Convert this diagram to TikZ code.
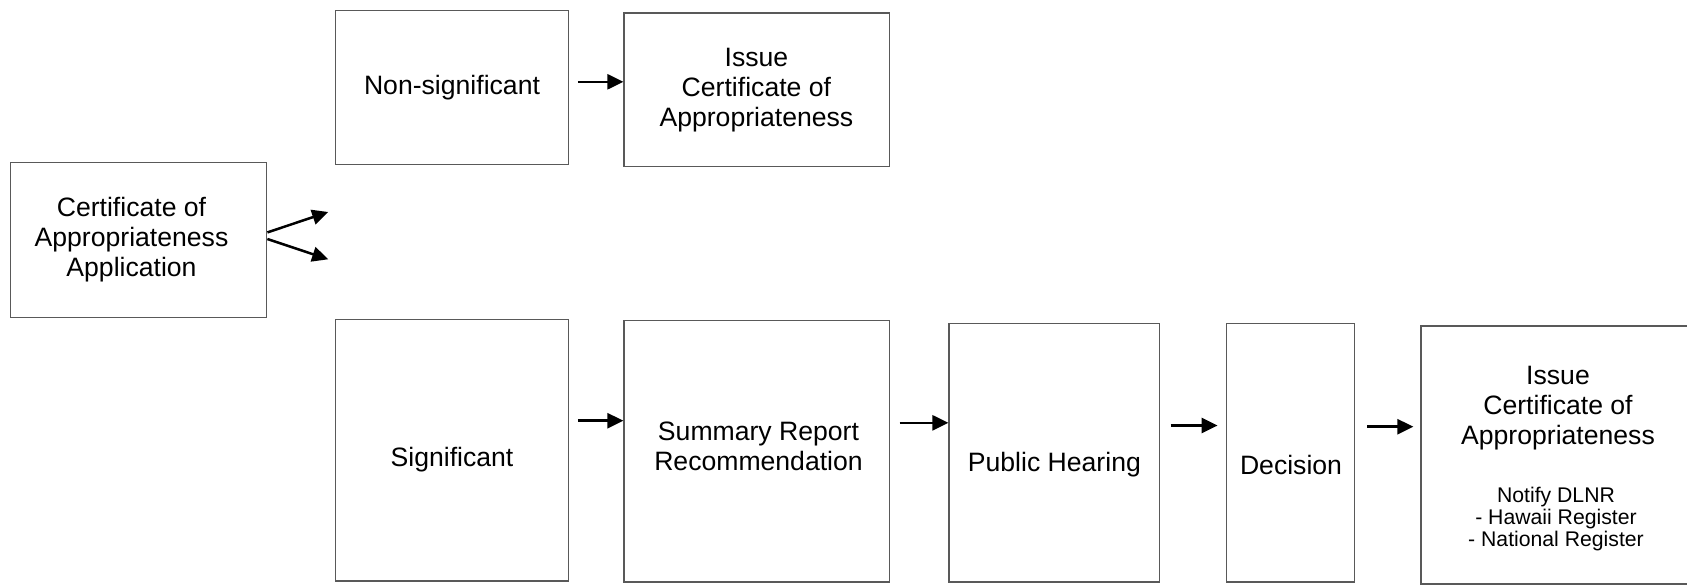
\documentclass[tikz,border=0pt]{standalone}
\usepackage{fontspec}
\setmainfont{Liberation Sans}
\usetikzlibrary{arrows.meta}
\begin{document}
\begin{tikzpicture}[x=0.5pt,y=-0.5pt,
  box/.style={draw=black!65, line width=0.6pt, rectangle, inner sep=0pt},
  txt/.style={align=center, inner sep=0pt, font=\fontsize{13.3pt}{15pt}\selectfont},
  smalltxt/.style={align=center, inner sep=0pt, font=\fontsize{10.6pt}{11.2pt}\selectfont},
  arr/.style={line width=1.25pt, -{Triangle[length=8pt,width=7.5pt]}}]
\clip (0,0) rectangle (1687,586);
% boxes
\node[box, minimum width=128pt, minimum height=77.45pt] (app) at (138.8,240) {};
\node[box, minimum width=116.2pt, minimum height=76.9pt] (nonsig) at (451.9,87.7) {};
\node[box, minimum width=132.9pt, minimum height=76.95pt] (issue1) at (756.9,89.85) {};
\node[box, minimum width=116.2pt, minimum height=130.75pt] (sig) at (451.9,450.25) {};
\node[box, minimum width=132.9pt, minimum height=130.7pt] (summary) at (756.9,451.3) {};
\node[box, minimum width=105.4pt, minimum height=129.1pt] (public) at (1054.4,452.9) {};
\node[box, minimum width=64pt, minimum height=129.1pt] (decision) at (1290.2,452.9) {};
\node[box, minimum width=136.5pt, minimum height=129pt] (final) at (1557.5,455) {};
% texts
\node[txt] (apptext) at (131.5,240) {Certificate of\\Appropriateness\\Application};
\node[txt] (nonsigtext) at (452,88) {Non-significant};
\node[txt] (issue1text) at (756.4,90.4) {Issue\\Certificate of\\Appropriateness};
\node[txt] (sigtext) at (452,459.4) {Significant};
\node[txt] (summarytext) at (758.5,446.5) {Summary Report\\Recommendation};
\node[txt] (publictext) at (1054.4,464.8) {Public Hearing};
\node[txt] (decisiontext) at (1291,464.8) {Decision};
\node[txt] (finaltext) at (1558,408) {Issue\\Certificate of\\Appropriateness};
\node[smalltxt] (notifytext) at (1556,519) {Notify DLNR\\- Hawaii Register\\- National Register};
% arrow coordinates
\coordinate (e1) at (328.2,212);
\coordinate (e2) at (328.2,259.3);
\coordinate (a1) at (577.8,81.8);
\coordinate (a2) at (577.8,420.7);
\coordinate (a3) at (899.5,422.8);
\coordinate (a4) at (1170.5,425.5);
\coordinate (a5) at (1367,426.7);
% arrows
\draw[arr] ([yshift=3.8pt]app.east) -- (e1);
\draw[arr] ([yshift=0.5pt]app.east) -- (e2);
\draw[arr] (a1) -- (a1 -| issue1.west);
\draw[arr] (a2) -- (a2 -| summary.west);
\draw[arr] (a3) -- (a3 -| public.west);
\draw[arr, shorten >=4pt] (a4) -- (a4 -| decision.west);
\draw[arr, shorten >=3.5pt] (a5) -- (a5 -| final.west);
\end{tikzpicture}
\end{document}
